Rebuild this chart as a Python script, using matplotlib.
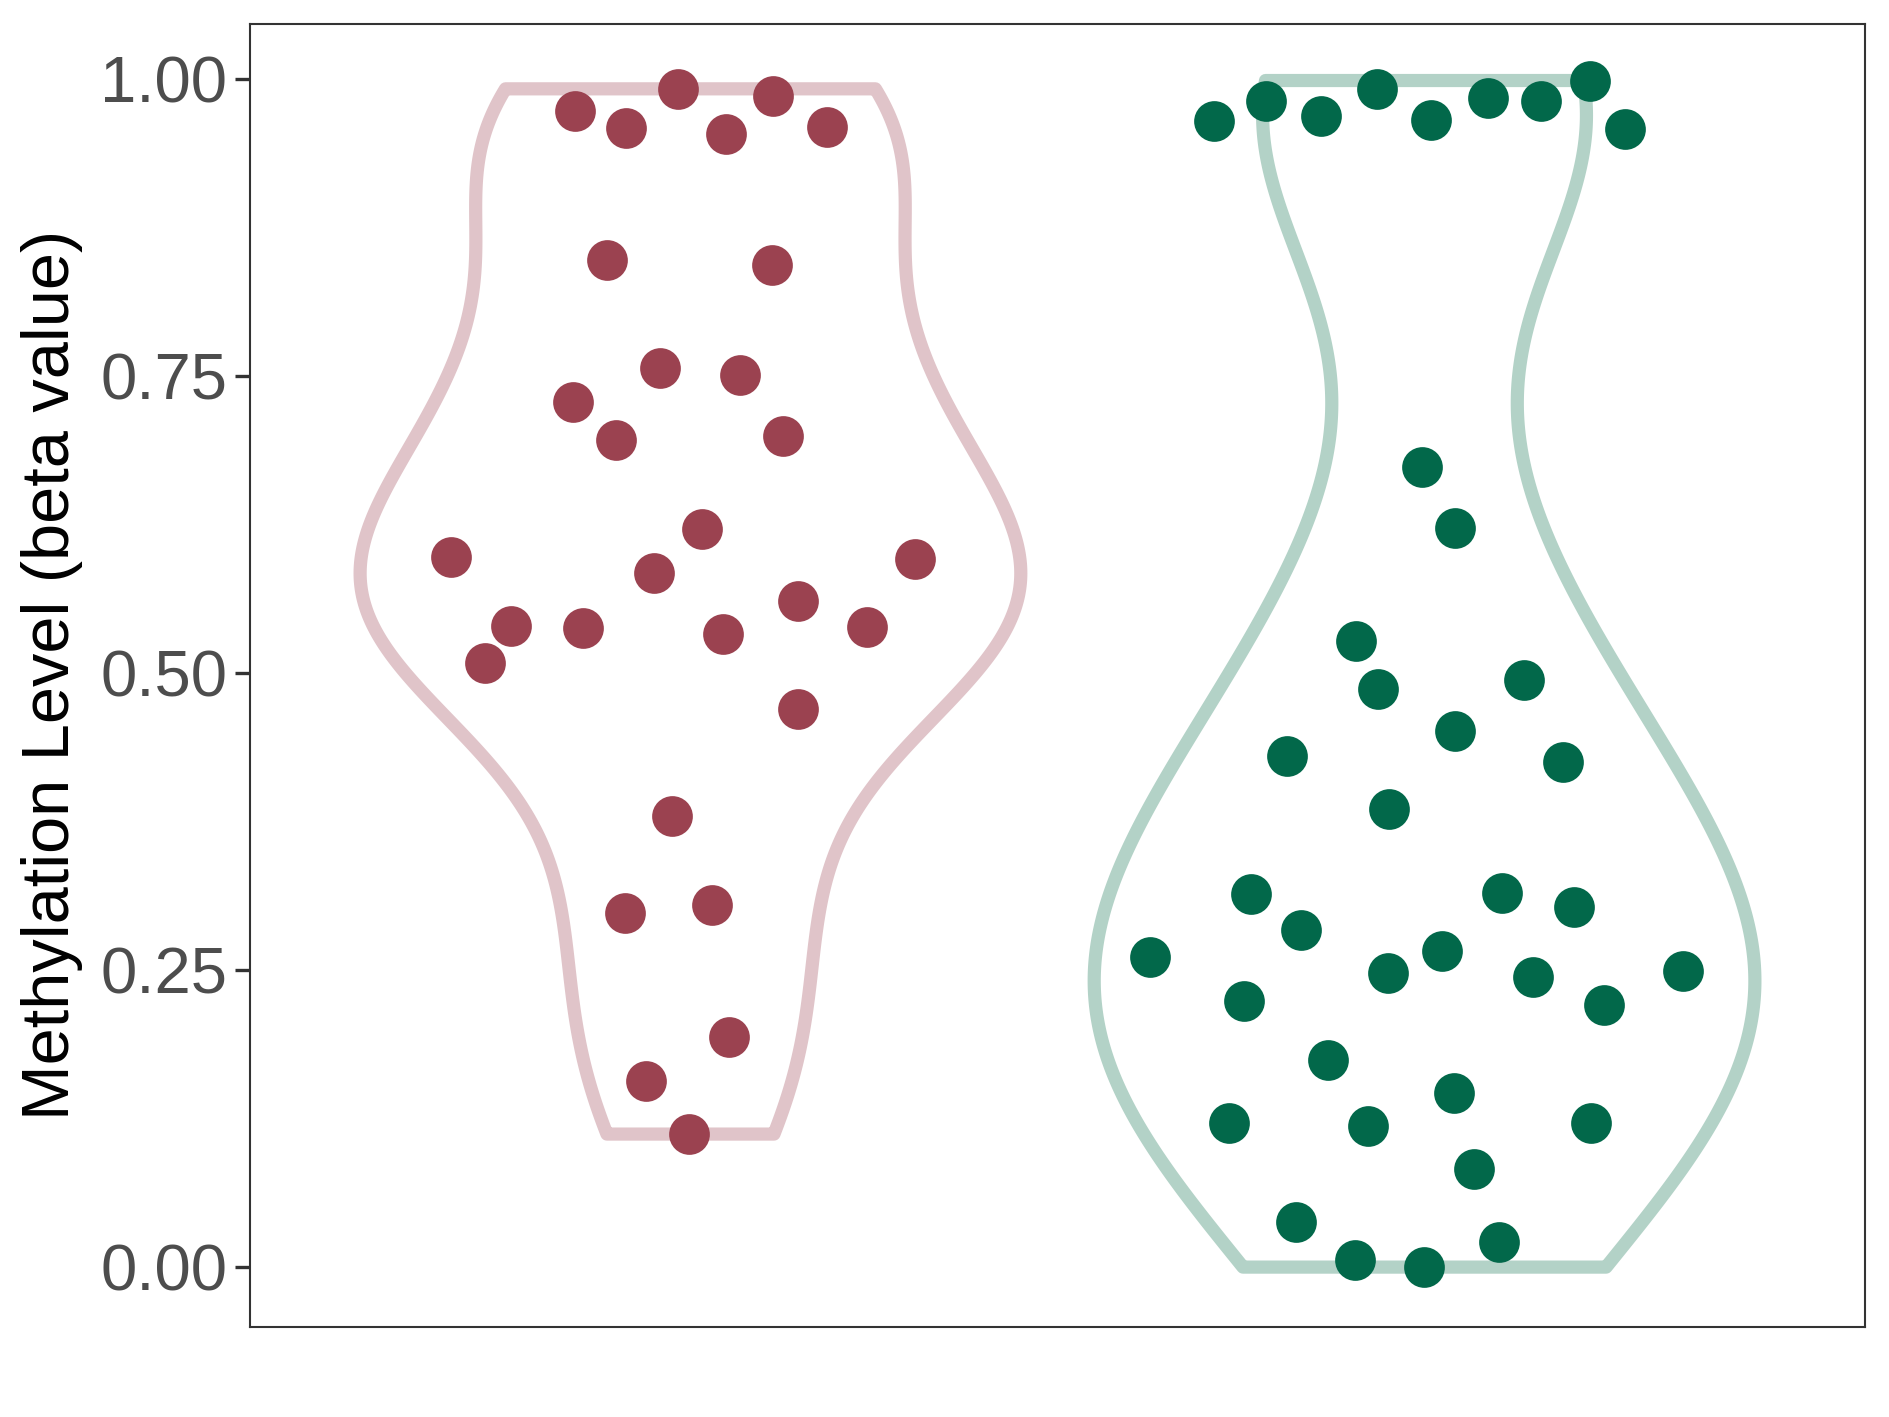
import numpy as np
import matplotlib
matplotlib.use('Agg')
import matplotlib.pyplot as plt

plt.rcParams['font.family'] = ['Liberation Sans', 'DejaVu Sans']

# group 1 (red): methylation values and horizontal jitter offsets
red_y = [0.973, 0.959, 0.992, 0.954, 0.986, 0.960, 0.848, 0.844, 0.757, 0.751,
         0.728, 0.696, 0.700, 0.598, 0.621, 0.596, 0.584, 0.540, 0.538, 0.533,
         0.561, 0.539, 0.509, 0.470, 0.380, 0.298, 0.305, 0.194, 0.157, 0.112]
red_dx = [-0.157, -0.088, -0.017, 0.048, 0.112, 0.186, -0.114, 0.111, -0.042, 0.067,
          -0.160, -0.101, 0.126, -0.326, 0.016, 0.306, -0.050, -0.245, -0.147, 0.044,
          0.147, 0.241, -0.280, 0.147, -0.025, -0.089, 0.029, 0.052, -0.060, -0.002]

# group 2 (green)
green_y = [0.965, 0.982, 0.969, 0.992, 0.966, 0.984, 0.982, 0.999, 0.958, 0.674,
           0.622, 0.527, 0.487, 0.494, 0.451, 0.430, 0.425, 0.386, 0.314, 0.315,
           0.284, 0.303, 0.261, 0.266, 0.248, 0.244, 0.249, 0.224, 0.221, 0.174,
           0.147, 0.121, 0.119, 0.121, 0.083, 0.038, 0.021, 0.006, 0.000]
green_dx = [-0.287, -0.216, -0.141, -0.065, 0.009, 0.086, 0.158, 0.226, 0.273, -0.004,
            0.042, -0.093, -0.063, 0.135, 0.042, -0.188, 0.189, -0.049, -0.236, 0.106,
            -0.168, 0.203, -0.374, 0.024, -0.050, 0.148, 0.352, -0.246, 0.244, -0.132,
            0.040, -0.267, -0.077, 0.227, 0.068, -0.175, 0.102, -0.095, -0.001]

positions = [1, 2]
point_colors = ['#9B4250', '#02684A']
violin_colors = ['#E0C4C9', '#B3D2C7']
y_ticks = [0.00, 0.25, 0.50, 0.75, 1.00]


def nrd0_factor(kde):
    # R's bw.nrd0 expressed as a factor of the sample sd
    d = np.asarray(kde.dataset).ravel()
    sd = np.std(d, ddof=1)
    q75, q25 = np.percentile(d, [75, 25])
    lo = min(sd, (q75 - q25) / 1.34)
    bw = 0.9 * lo * len(d) ** (-0.2)
    return bw / sd


fig = plt.figure(figsize=(18.89, 14.17), dpi=100)
ax = fig.add_axes([250 / 1889, 1 - 1326.5 / 1417, (1865 - 250) / 1889, 1303 / 1417])

parts = ax.violinplot([red_y, green_y], positions=positions, widths=0.9,
                      showextrema=False, bw_method=nrd0_factor, points=512)
for body, c in zip(parts['bodies'], violin_colors):
    body.set_facecolor('none')
    body.set_edgecolor(c)
    body.set_linewidth(9.5)
    body.set_alpha(1)
    body.set_joinstyle('round')

ax.scatter(np.array(red_dx) + positions[0], red_y, s=860, color=point_colors[0],
           linewidths=0, zorder=3)
ax.scatter(np.array(green_dx) + positions[1], green_y, s=860, color=point_colors[1],
           linewidths=0, zorder=3)

ax.set_xlim(0.4, 2.6)
ax.set_ylim(-0.05, 1.047)
ax.set_yticks(y_ticks)
ax.set_yticklabels(['%.2f' % t for t in y_ticks])
ax.set_xticks([])
ax.tick_params(axis='y', labelsize=47, labelcolor='#4D4D4D', color='#333333',
               length=11, width=2.4, pad=5.5)
for s in ax.spines.values():
    s.set_color('#333333')
    s.set_linewidth(1.5)
ax.set_ylabel('Methylation Level (beta value)', fontsize=48, color='black', labelpad=12)

fig.savefig('out.png', dpi=100)
